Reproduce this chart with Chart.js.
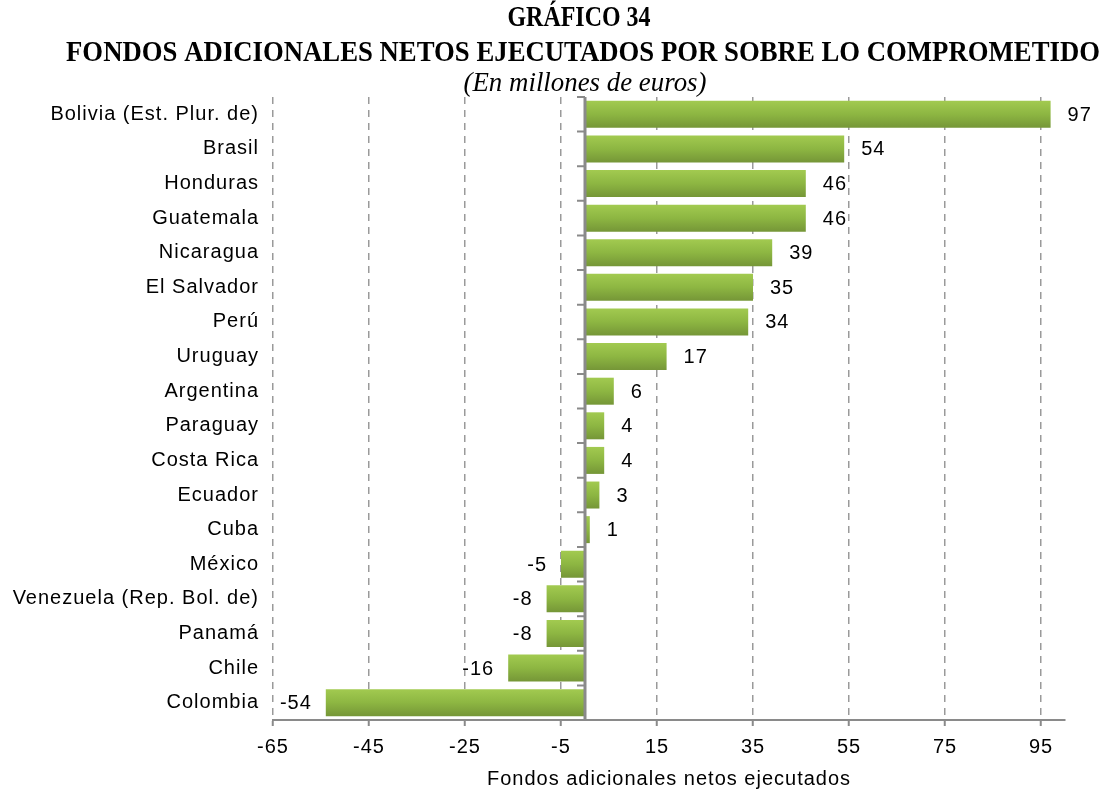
<!DOCTYPE html>
<html>
<head>
<meta charset="utf-8">
<script src="https://cdn.jsdelivr.net/npm/chart.js@4/dist/chart.umd.min.js"></script>
<style>
  html, body { margin: 0; padding: 0; background: #ffffff; }
  #wrap { width: 1104px; height: 793px; position: relative; }
</style>
</head>
<body>
<div id="wrap"><canvas id="chart"></canvas></div>
<script>
// Países y fondos adicionales netos ejecutados (millones de euros)
const categories = [
  'Bolivia (Est. Plur. de)', 'Brasil', 'Honduras', 'Guatemala', 'Nicaragua',
  'El Salvador', 'Perú', 'Uruguay', 'Argentina', 'Paraguay', 'Costa Rica',
  'Ecuador', 'Cuba', 'México', 'Venezuela (Rep. Bol. de)', 'Panamá', 'Chile', 'Colombia'
];
const values = [97, 54, 46, 46, 39, 35, 34, 17, 6, 4, 4, 3, 1, -5, -8, -8, -16, -54];
const xTickValues = [-65, -45, -25, -5, 15, 35, 55, 75, 95];

const titleLines = [
  'GRÁFICO 34',
  'FONDOS ADICIONALES NETOS EJECUTADOS POR SOBRE LO COMPROMETIDO'
];
const subtitleText = '(En millones de euros)';
const axisTitle = 'Fondos adicionales netos ejecutados';

const SANS = '"Liberation Sans", Arial, sans-serif';
const SERIF = '"Liberation Serif", "Times New Roman", serif';

const CAT_PCT = 1.0;
const BAR_PCT = 0.78;

// Vertical gradient for each bar, from light to darker green
function barGradient(ctx) {
  const chart = ctx.chart;
  const y = chart.scales.y;
  if (!y || !chart.chartArea || ctx.dataIndex === undefined) return '#8db744';
  const center = y.getPixelForValue(ctx.dataIndex);
  const half = (chart.chartArea.height / categories.length) * CAT_PCT * BAR_PCT / 2;
  const g = chart.ctx.createLinearGradient(0, center - half, 0, center + half);
  g.addColorStop(0, '#a2ca50');
  g.addColorStop(0.5, '#8db642');
  g.addColorStop(1, '#759637');
  return g;
}

// Slightly widened sans text, as in the original spreadsheet rendering
const spacingPlugin = {
  id: 'spacing',
  beforeDraw(chart) { chart.ctx.letterSpacing = '1px'; }
};

// Draw a condensed, tall serif line centred on cx
function drawTitleLine(c, text, font, cx, cy, width, scaleY) {
  c.save();
  c.font = font;
  const w = c.measureText(text).width;
  c.translate(cx, cy);
  c.scale(width / w, scaleY);
  c.fillText(text, 0, 0);
  c.restore();
}

// Titles centred above the plot
const titlePlugin = {
  id: 'titles',
  afterDraw(chart) {
    const c = chart.ctx;
    c.save();
    c.letterSpacing = '0px';
    c.fillStyle = '#000';
    c.textAlign = 'center';
    c.textBaseline = 'middle';
    drawTitleLine(c, titleLines[0], 'bold 25px ' + SERIF, 579, 19, 143, 1.15);
    drawTitleLine(c, titleLines[1], 'bold 25px ' + SERIF, 583, 54, 1034, 1.15);
    drawTitleLine(c, subtitleText, 'italic 25px ' + SERIF, 585, 84, 243, 1.12);
    c.restore();
  }
};

// Zero line with category tick marks, and value labels beside the bars
const zeroAndLabels = {
  id: 'zeroAndLabels',
  afterDatasetsDraw(chart) {
    const c = chart.ctx;
    const xs = chart.scales.x, ys = chart.scales.y;
    const area = chart.chartArea;
    const x0 = xs.getPixelForValue(0);
    c.save();
    c.strokeStyle = '#8a8a8a';
    c.lineWidth = 3;
    c.beginPath();
    c.moveTo(x0, area.top);
    c.lineTo(x0, area.bottom);
    c.stroke();
    c.lineWidth = 2;
    c.beginPath();
    for (let i = 0; i <= categories.length; i++) {
      const yy = ys.getPixelForValue(i - 0.5);
      c.moveTo(x0 - 8, yy);
      c.lineTo(x0, yy);
    }
    c.stroke();

    c.fillStyle = '#000';
    c.font = '20px ' + SANS;
    c.textBaseline = 'middle';
    const meta = chart.getDatasetMeta(0);
    meta.data.forEach((bar, i) => {
      const v = values[i];
      const txt = String(v);
      if (v >= 0) {
        c.textAlign = 'left';
        c.fillText(txt, bar.x + 17, bar.y + 1);
      } else {
        c.textAlign = 'right';
        c.fillText(txt, bar.x - 14, bar.y + 1);
      }
    });
    c.restore();
  }
};

new Chart(document.getElementById('chart'), {
  type: 'bar',
  data: {
    labels: categories,
    datasets: [{
      data: values,
      backgroundColor: barGradient,
      borderWidth: 0,
      categoryPercentage: CAT_PCT,
      barPercentage: BAR_PCT
    }]
  },
  options: {
    indexAxis: 'y',
    responsive: true,
    maintainAspectRatio: false,
    animation: false,
    layout: { padding: { top: 97, right: 39, bottom: 0, left: 0 } },
    plugins: {
      legend: { display: false },
      tooltip: { enabled: false },
      title: { display: false }
    },
    scales: {
      x: {
        type: 'linear',
        min: -65,
        max: 100,
        afterBuildTicks(scale) {
          scale.ticks = xTickValues.map(v => ({ value: v }));
        },
        afterFit(scale) { scale.height = 73; },
        grid: {
          color: '#9a9a9a',
          lineWidth: 1.5,
          drawTicks: true,
          tickLength: 6,
          tickColor: '#8a8a8a',
          tickWidth: 2,
          tickBorderDash: []
        },
        border: { display: true, color: '#8a8a8a', width: 2, dash: [7, 6] },
        ticks: {
          color: '#000',
          font: { family: SANS, size: 20 },
          padding: 9,
          maxRotation: 0
        },
        title: {
          display: true,
          text: axisTitle,
          color: '#000',
          font: { family: SANS, size: 20 },
          padding: { top: 0, bottom: 2 }
        }
      },
      y: {
        afterFit(scale) { scale.width = 273; },
        grid: { display: false, drawTicks: false },
        border: { display: false },
        ticks: {
          color: '#000',
          font: { family: SANS, size: 20 },
          padding: 14,
          autoSkip: false
        }
      }
    }
  },
  plugins: [spacingPlugin, titlePlugin, zeroAndLabels]
});
</script>
</body>
</html>
